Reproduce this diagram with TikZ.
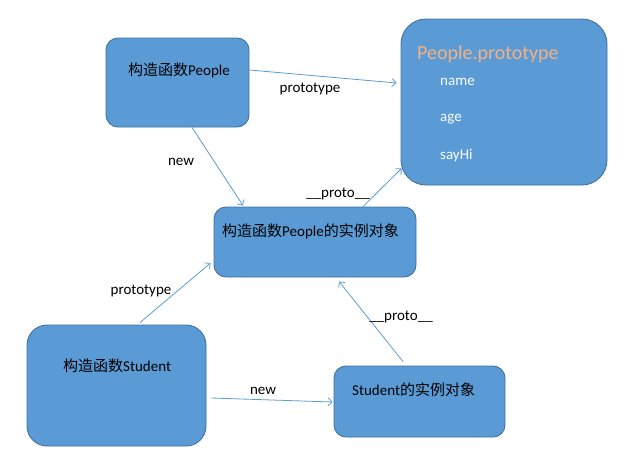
\documentclass[tikz,border=0pt]{standalone}
\usepackage{fontspec}
\setmainfont{Carlito}
\newfontfamily\cjk{Noto Sans CJK SC}
\usetikzlibrary{arrows.meta,calc}
\definecolor{boxfill}{HTML}{5B9BD5}
\definecolor{boxline}{HTML}{41719C}
\definecolor{arrowc}{HTML}{5B9BD5}
\definecolor{titleor}{HTML}{F4B183}
\tikzset{
  box/.style={draw=boxline, line width=0.9pt, fill=boxfill, rounded corners=#1, inner sep=0pt},
  box/.default=12pt,
  txt/.style={inner sep=0pt, font=\fontsize{15}{17}\selectfont},
  lbl/.style={inner sep=0pt, font=\fontsize{15}{17}\selectfont, text=black},
  wtxt/.style={inner sep=0pt, anchor=west, text=white, font=\fontsize{15}{17}\selectfont},
  conn/.style={draw=arrowc, line width=0.8pt, -{Straight Barb[length=4pt,width=8pt]}}
}
\begin{document}
\begin{tikzpicture}[x=1pt,y=-1pt]
\useasboundingbox (0,0) rectangle (642,456);
% boxes
\node[box=12pt, minimum width=143pt, minimum height=89pt] (people) at (177.5,82.5) {};
\node[box=25pt, minimum width=206pt, minimum height=166pt] (proto) at (504,102) {};
\node[box=12pt, minimum width=202pt, minimum height=70pt] (inst) at (315,242) {};
\node[box=20pt, minimum width=179pt, minimum height=121pt] (student) at (116.5,385.5) {};
\node[box=12pt, minimum width=171pt, minimum height=71pt] (sinst) at (419.5,401.5) {};
% texts in boxes
\node[txt, anchor=west] (tpeople) at (128,70) {{\cjk 构造函数}People};
\node[inner sep=0pt, anchor=west, text=titleor, font=\fontsize{20}{24}\selectfont] (ttitle) at (417,54) {People.prototype};
\node[wtxt] (tname) at (440,82) {name};
\node[wtxt] (tage) at (440,119) {age};
\node[wtxt] (tsay) at (440,156) {sayHi};
\node[txt, anchor=west] (tinst) at (222,231) {{\cjk 构造函数}People{\cjk 的实例对象}};
\node[txt, anchor=west] (tstudent) at (63,366) {{\cjk 构造函数}Student};
\node[txt, anchor=west] (tsinst) at (352,390) {Student{\cjk 的实例对象}};
% connectors
\draw[conn] ($(people.east)+(0,-12.5)$) -- ($(proto.west)+(-4,-19)$);
\draw[conn] ($(people.south)+(14.5,0)$) -- ($(inst.north)+(-72,-1)$);
\draw[conn] ($(inst.north)+(48,0)$) -- ($(proto.south west)+(1,-17)$);
\draw[conn] ($(student.north)+(23.5,-2)$) -- ($(inst.west)+(-3,21)$);
\draw[conn] ($(student.east)+(5,12.5)$) -- ($(sinst.west)+(-1,0.5)$);
\draw[conn] ($(sinst.north)+(-16.5,-4)$) -- ($(inst.south)+(24,4)$);
% labels
\node[lbl] (l1) at (310,89) {prototype};
\node[lbl] (l2) at (181,162) {new};
\node[lbl] (l3) at (338,194) {\_\_proto\_\_};
\node[lbl] (l4) at (141,291) {prototype};
\node[lbl] (l5) at (263,391) {new};
\node[lbl] (l6) at (401,317) {\_\_proto\_\_};
\end{tikzpicture}
\end{document}
